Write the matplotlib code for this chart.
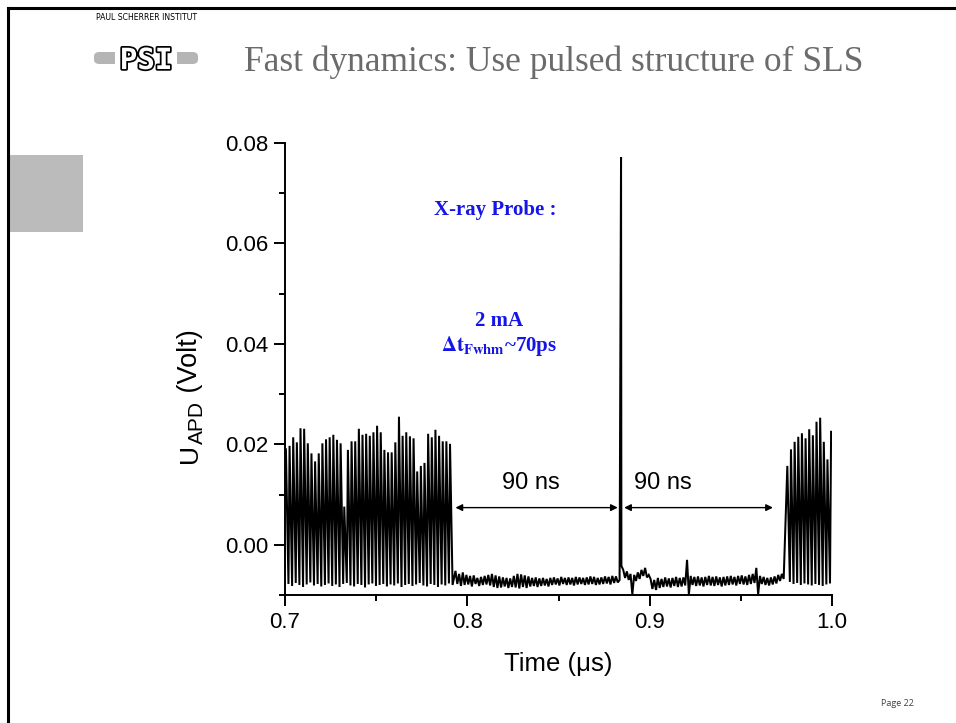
import numpy as np
import matplotlib
matplotlib.use("Agg")
import matplotlib.pyplot as plt
from matplotlib.patches import FancyBboxPatch, Rectangle
import matplotlib.patheffects as pe

# ---------------- data ----------------
bunch_spacing_us = 0.002          # SLS RF bunch spacing (2 ns)
left_train_first_peak = 0.7005    # µs
left_peaks = [0.0190, 0.0197, 0.0214, 0.0204, 0.0232, 0.0231, 0.0202, 0.0182,
              0.0166, 0.0182, 0.0202, 0.0210, 0.0214, 0.0219, 0.0209, 0.0202,
              0.0076, 0.0189, 0.0206, 0.0206, 0.0231, 0.0219, 0.0221, 0.0217,
              0.0224, 0.0237, 0.0224, 0.0189, 0.0184, 0.0184, 0.0204, 0.0255,
              0.0217, 0.0224, 0.0216, 0.0212, 0.0146, 0.0157, 0.0163, 0.0221,
              0.0214, 0.0229, 0.0217, 0.0206, 0.0206, 0.0201]
left_troughs = [-0.0078, -0.0082, -0.0076, -0.0080, -0.0084, -0.0079, -0.0075, -0.0081,
                -0.0078, -0.0083, -0.0080, -0.0077, -0.0082, -0.0079, -0.0084, -0.0078,
                -0.0076, -0.0081, -0.0083, -0.0078, -0.0080, -0.0085, -0.0079, -0.0077,
                -0.0082, -0.0080, -0.0078, -0.0083, -0.0079, -0.0081, -0.0077, -0.0084,
                -0.0080, -0.0078, -0.0082, -0.0079, -0.0076, -0.0081, -0.0083, -0.0078,
                -0.0080, -0.0084, -0.0079, -0.0081, -0.0077, -0.0080]

gap_start = 0.7935                # µs, 1 ns sampling of the baseline between trains
gap_signal = [
    -0.0052, -0.0078, -0.0058, -0.0082, -0.0055, -0.0080, -0.0060, -0.0079, -0.0062, -0.0083, -0.0061, -0.0078,
    -0.0066, -0.0082, -0.0064, -0.0080, -0.0062, -0.0079, -0.0060, -0.0081, -0.0058, -0.0084,
    -0.0061, -0.0086, -0.0063, -0.0085, -0.0065, -0.0083, -0.0066, -0.0086, -0.0067, -0.0084,
    -0.0062, -0.0085, -0.0058, -0.0087, -0.0059, -0.0084, -0.0061, -0.0086, -0.0063, -0.0083,
    -0.0066, -0.0082, -0.0065, -0.0084, -0.0067, -0.0082, -0.0066, -0.0081, -0.0068, -0.0083,
    -0.0066, -0.0080, -0.0065, -0.0079, -0.0067, -0.0081, -0.0064, -0.0078, -0.0066, -0.0080,
    -0.0065, -0.0079, -0.0066, -0.0081, -0.0064, -0.0079, -0.0065, -0.0078, -0.0066, -0.0080,
    -0.0065, -0.0079, -0.0063, -0.0078, -0.0064, -0.0080, -0.0066, -0.0079, -0.0065, -0.0078,
    -0.0063, -0.0077, -0.0064, -0.0079, -0.0062, -0.0076, -0.0063, -0.0075,
    -0.0070, -0.0042,
    -0.0050, -0.0066, -0.0053, -0.0070, -0.0058, -0.0099, -0.0060, -0.0072, -0.0055, -0.0068,
    -0.0050, -0.0062, -0.0046, -0.0065, -0.0060,
    -0.0068, -0.0088, -0.0070, -0.0090, -0.0066, -0.0086, -0.0068, -0.0084, -0.0065, -0.0083,
    -0.0067, -0.0085, -0.0066, -0.0082, -0.0064, -0.0084, -0.0066, -0.0083, -0.0065, -0.0081,
    -0.0030, -0.0099,
    -0.0062, -0.0080, -0.0064, -0.0082, -0.0063, -0.0081, -0.0065, -0.0083, -0.0064, -0.0080,
    -0.0062, -0.0081, -0.0064, -0.0082, -0.0063, -0.0080, -0.0065, -0.0083, -0.0064, -0.0081,
    -0.0063, -0.0080, -0.0062, -0.0079, -0.0064, -0.0081, -0.0062, -0.0078, -0.0061, -0.0079,
    -0.0063, -0.0080, -0.0060, -0.0078, -0.0058, -0.0076,
    -0.0046, -0.0099,
    -0.0062, -0.0078, -0.0064, -0.0080, -0.0066, -0.0081, -0.0065, -0.0079, -0.0063, -0.0077,
    -0.0060, -0.0072, -0.0058, -0.0068]

probe_time = 0.8843               # µs, single (camshaft) bunch
probe_peak = 0.0772               # V

right_train_first_peak = 0.9755
right_peaks = [0.0157, 0.0190, 0.0205, 0.0215, 0.0222, 0.0212, 0.0230,
               0.0218, 0.0245, 0.0253, 0.0205, 0.0170, 0.0225]
right_troughs = [-0.0074, -0.0078, -0.0076, -0.0080, -0.0077, -0.0079, -0.0081,
                 -0.0078, -0.0080, -0.0082, -0.0079, -0.0077]

xlim = (0.7, 1.0)
ylim = (-0.01, 0.08)
yticks = [0.00, 0.02, 0.04, 0.06, 0.08]
xticks = [0.7, 0.8, 0.9, 1.0]
gap_labels = ["90 ns", "90 ns"]
gap_arrows = [(0.7935, 0.8825), (0.8860, 0.9676)]
arrow_level = 0.0074
probe_text = ["X-ray Probe :", "2 mA", r"$\mathbf{\Delta t_{Fwhm}}$~70ps"]

# ---------------- build the trace ----------------
t, v = [], []
for i, pk in enumerate(left_peaks):
    tp = left_train_first_peak + i * bunch_spacing_us
    t.append(tp); v.append(pk)
    t.append(tp + 0.0014); v.append(left_troughs[i])
for i, g in enumerate(gap_signal):
    t.append(gap_start + 0.001 * i); v.append(g)
t.append(probe_time); v.append(probe_peak)
for i, pk in enumerate(right_peaks):
    tp = right_train_first_peak + i * bunch_spacing_us
    t.append(tp); v.append(pk)
    if i < len(right_troughs):
        t.append(tp + 0.0014); v.append(right_troughs[i])
order = np.argsort(t)
t = np.array(t)[order]
v = np.array(v)[order]

# ---------------- figure ----------------
W, H = 956, 723
fig = plt.figure(figsize=(W / 100, H / 100), dpi=100)
fig.patch.set_facecolor("white")

# slide frame
fig.add_artist(plt.Line2D([8 / W, 1.0], [1 - 8 / H, 1 - 8 / H], color="black", lw=2.2))
fig.add_artist(plt.Line2D([8 / W, 8 / W], [0, 1 - 8 / H], color="black", lw=2.2))
fig.add_artist(Rectangle((10 / W, 1 - 232 / H), 73 / W, 77 / H, color="#bbbbbb", lw=0))

# logo
fig.text(147 / W, 1 - 18 / H, "PAUL SCHERRER INSTITUT", fontsize=5.6, ha="center", va="center",
         family="DejaVu Sans", color="black")
fig.add_artist(FancyBboxPatch((94 / W, 1 - 64 / H), 104 / W, 12 / H,
                              boxstyle="round,pad=0,rounding_size=0.006",
                              fc="#b5b5b5", ec="none"))
fig.add_artist(FancyBboxPatch((115 / W, 1 - 74 / H), 62 / W, 27 / H,
                              boxstyle="round,pad=0,rounding_size=0.004",
                              fc="white", ec="none"))
fig.text(146 / W, 1 - 61 / H, "PSI", fontsize=21, ha="center", va="center", weight="bold",
         family="DejaVu Sans Mono", color="white",
         path_effects=[pe.withStroke(linewidth=2.5, foreground="black")])

# title
fig.text(244 / W, 1 - 62 / H, "Fast dynamics: Use pulsed structure of SLS", fontsize=25.5,
         family="Liberation Serif", color="#6b6b6b", ha="left", va="center")

fig.text(897 / W, 1 - 703 / H, "Page 22", fontsize=6.5, family="Open Sans",
         color="#404040", ha="center", va="center")

# axes
ax = fig.add_axes([285 / W, 1 - 595 / H, (832 - 285) / W, (595 - 143) / H])
ax.plot(t, v, color="black", lw=1.45, solid_joinstyle="miter")
ax.set_xlim(*xlim)
ax.set_ylim(*ylim)
for s in ("top", "right"):
    ax.spines[s].set_visible(False)
for s in ("left", "bottom"):
    ax.spines[s].set_linewidth(1.4)
ax.set_xticks(xticks)
ax.set_xticklabels([f"{x:.1f}" for x in xticks])
ax.set_xticks([0.75, 0.85, 0.95], minor=True)
ax.set_yticks(yticks)
ax.set_yticklabels([f"{y:.2f}" for y in yticks])
ax.set_yticks([-0.01, 0.01, 0.03, 0.05, 0.07], minor=True)
ax.tick_params(which="major", direction="out", length=8, width=1.4, labelsize=16, pad=4)
ax.tick_params(which="minor", direction="out", length=4, width=1.4)
for lab in ax.get_xticklabels() + ax.get_yticklabels():
    lab.set_family("Liberation Sans")

ax.set_xlabel("Time (μs)", fontsize=18.5, family="Liberation Sans", labelpad=14)

# y label: U with a large subscript APD, then (Volt)
lab_kw = dict(rotation=90, rotation_mode="anchor", ha="left", va="baseline",
              family="Liberation Sans", color="black")
fig.text(197 / W, 1 - 463 / H, "U", fontsize=19, **lab_kw)
fig.text(203 / W, 1 - 444 / H, "APD", fontsize=15, **lab_kw)
fig.text(197 / W, 1 - 400 / H, " (Volt)", fontsize=19.5, **lab_kw)

# arrows and labels
label_x = [0.835, 0.9073]
for (a, b), lab, lx in zip(gap_arrows, gap_labels, label_x):
    ax.annotate("", xy=(a, arrow_level), xytext=(b, arrow_level),
                arrowprops=dict(arrowstyle="<|-|>", color="black", lw=1.0,
                                mutation_scale=10, shrinkA=0, shrinkB=0))
    ax.text(lx, 0.0124, lab, fontsize=17, family="Liberation Sans", ha="center", va="center")

blue = "#1515e8"
ax.text(0.8152, 0.0667, probe_text[0], fontsize=15, weight="bold", family="Liberation Serif",
        color=blue, ha="center", va="center")
ax.text(0.8174, 0.0446, probe_text[1], fontsize=15, weight="bold", family="Liberation Serif",
        color=blue, ha="center", va="center")
ax.text(0.8172, 0.0396, probe_text[2], fontsize=15, family="Liberation Serif",
        color=blue, ha="center", va="center", math_fontfamily="stix", weight="bold")

fig.savefig("out.png", dpi=100)
